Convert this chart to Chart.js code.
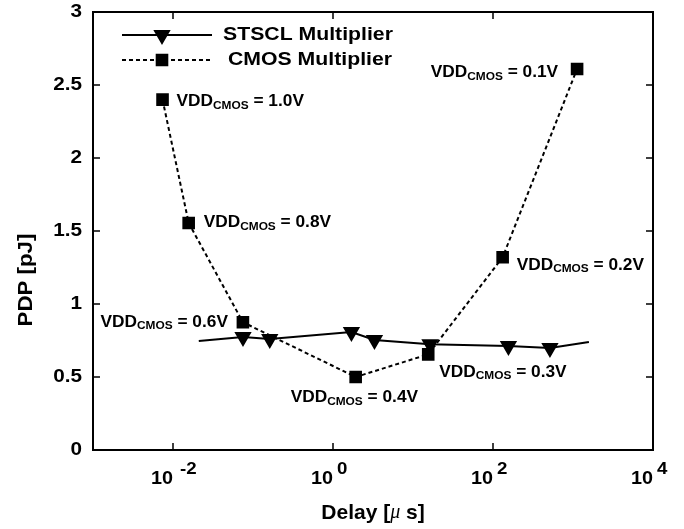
<!DOCTYPE html>
<html>
<head>
<meta charset="utf-8">
<script src="https://cdn.jsdelivr.net/npm/chart.js@4.4.1/dist/chart.umd.min.js"></script>
<style>
  body { margin: 0; background: #fff; }
</style>
</head>
<body>
<canvas id="myChart" width="684" height="529"></canvas>
<script>
// delay in microseconds, PDP in pJ
var stsclDelay = [0.021, 0.075, 0.162, 1.70, 3.3, 16.3, 156, 515, 1580];
var stsclPdp = [0.747, 0.774, 0.760, 0.808, 0.753, 0.725, 0.712, 0.699, 0.740];
var stsclMarker = [false, true, true, true, true, true, true, true, false];

var cmosDelay = [0.0074, 0.0157, 0.0748, 1.92, 15.5, 132, 1125];
var cmosPdp = [2.40, 1.555, 0.875, 0.50, 0.655, 1.32, 2.61];
var cmosVdd = ["1.0V", "0.8V", "0.6V", "0.4V", "0.3V", "0.2V", "0.1V"];

var xTicks = [1e-2, 1, 1e2, 1e4];
var xTickExp = ["-2", "0", "2", "4"];
var yTicks = [0, 0.5, 1, 1.5, 2, 2.5, 3];
var yTickLabels = ["0", "0.5", "1", "1.5", "2", "2.5", "3"];

var seriesNames = ["STSCL Multiplier", "CMOS Multiplier"];

var FONT = "'Liberation Sans', Arial, sans-serif";

// where each VDD label sits relative to its point: dx, dy, align
var labelPos = [
  [14, 2, "left"], [15, 0, "left"], [-15, 0, "right"], [-65, 21, "left"],
  [11, 18, "left"], [14, 8, "left"], [-19, 4, "right"]
];

function toXY(xs, ys) {
  var out = [];
  for (var i = 0; i < xs.length; i++) out.push({x: xs[i], y: ys[i]});
  return out;
}

// draws a run of text pieces, stretched a bit wider like the original figure
function drawParts(ctx, parts, x, y, align, sx) {
  var total = 0;
  parts.forEach(function (p) {
    ctx.font = p.font;
    p.w = ctx.measureText(p.t).width * sx;
    total += p.w;
  });
  var cx = x;
  if (align === "right") cx = x - total;
  if (align === "center") cx = x - total / 2;
  parts.forEach(function (p) {
    ctx.save();
    ctx.font = p.font;
    ctx.textBaseline = "middle";
    ctx.textAlign = "left";
    ctx.fillStyle = "#000";
    ctx.translate(cx, y + (p.dy || 0));
    ctx.scale(sx, 1);
    ctx.fillText(p.t, 0, 0);
    ctx.restore();
    cx += p.w;
  });
}

var decorPlugin = {
  id: "decor",
  afterDraw: function (chart) {
    var ctx = chart.ctx;
    var a = chart.chartArea;
    var xs = chart.scales.x, ys = chart.scales.y;
    ctx.save();
    ctx.strokeStyle = "#000";
    ctx.lineWidth = 2;
    ctx.strokeRect(a.left, a.top, a.right - a.left, a.bottom - a.top);

    // inward ticks
    ctx.lineWidth = 1.5;
    ctx.beginPath();
    xTicks.forEach(function (v) {
      var px = Math.round(xs.getPixelForValue(v));
      ctx.moveTo(px, a.bottom); ctx.lineTo(px, a.bottom - 7);
      ctx.moveTo(px, a.top); ctx.lineTo(px, a.top + 7);
    });
    yTicks.forEach(function (v) {
      var py = Math.round(ys.getPixelForValue(v));
      ctx.moveTo(a.left, py); ctx.lineTo(a.left + 7, py);
      ctx.moveTo(a.right, py); ctx.lineTo(a.right - 7, py);
    });
    ctx.stroke();

    // y tick labels
    yTicks.forEach(function (v, i) {
      drawParts(ctx, [{t: yTickLabels[i], font: "bold 18px " + FONT}],
        a.left - 11, ys.getPixelForValue(v), "right", 1.15);
    });

    // x tick labels 10^n
    xTicks.forEach(function (v, i) {
      var px = xs.getPixelForValue(v);
      drawParts(ctx, [{t: "10", font: "bold 18px " + FONT}], px, 479, "right", 1.1);
      var off = xTickExp[i].length > 1 ? 7 : 4;
      drawParts(ctx, [{t: xTickExp[i], font: "bold 17px " + FONT}], px + off, 469, "left", 1.1);
    });

    // axis titles
    drawParts(ctx, [
      {t: "Delay [", font: "bold 21px " + FONT},
      {t: "\u03bc", font: "italic 20px 'Liberation Serif', serif"},
      {t: " s]", font: "bold 21px " + FONT}
    ], (a.left + a.right) / 2, 513, "center", 1.0);

    ctx.save();
    ctx.translate(26, 280);
    ctx.rotate(-Math.PI / 2);
    drawParts(ctx, [{t: "PDP [pJ]", font: "bold 21px " + FONT}], 0, 0, "center", 1.06);
    ctx.restore();

    // VDD labels next to the CMOS points
    var meta = chart.getDatasetMeta(1);
    meta.data.forEach(function (pt, i) {
      var lp = labelPos[i];
      drawParts(ctx, [
        {t: "VDD", font: "bold 16px " + FONT},
        {t: "CMOS", font: "bold 11px " + FONT, dy: 4},
        {t: " = " + cmosVdd[i], font: "bold 16px " + FONT}
      ], pt.x + lp[0], pt.y + lp[1], lp[2], 1.08);
    });

    // legend
    var rows = [
      {y: 35, dash: [], style: "triangle", rot: 180, r: 8, tx: 223},
      {y: 60, dash: [4, 3], style: "rect", rot: 0, r: 7.5, tx: 228}
    ];
    rows.forEach(function (row, i) {
      ctx.save();
      ctx.strokeStyle = "#000";
      ctx.lineWidth = 2;
      ctx.setLineDash(row.dash);
      ctx.beginPath();
      ctx.moveTo(122, row.y); ctx.lineTo(212, row.y);
      ctx.stroke();
      ctx.setLineDash([]);
      ctx.fillStyle = "#000";
      Chart.helpers.drawPoint(ctx, {pointStyle: row.style, rotation: row.rot, radius: row.r, borderWidth: 1}, 162, row.y);
      ctx.restore();
      drawParts(ctx, [{t: seriesNames[i], font: "bold 18px " + FONT}], row.tx, row.y, "left", 1.18);
    });
    ctx.restore();
  }
};

var ctx = document.getElementById("myChart").getContext("2d");
var myChart = new Chart(ctx, {
  type: "line",
  data: {
    datasets: [{
      label: seriesNames[0],
      data: toXY(stsclDelay, stsclPdp),
      borderColor: "#000",
      backgroundColor: "#000",
      borderWidth: 2,
      pointStyle: "triangle",
      rotation: 180,
      pointRadius: stsclMarker.map(function (m) { return m ? 8 : 0; }),
      fill: false,
      tension: 0
    }, {
      label: seriesNames[1],
      data: toXY(cmosDelay, cmosPdp),
      borderColor: "#000",
      backgroundColor: "#000",
      borderWidth: 2,
      borderDash: [4, 3],
      pointStyle: "rect",
      pointRadius: 7.5,
      fill: false,
      tension: 0
    }]
  },
  options: {
    responsive: false,
    animation: false,
    layout: { padding: { left: 93, top: 12, right: 31, bottom: 79 } },
    plugins: { legend: { display: false }, tooltip: { enabled: false } },
    scales: {
      x: { type: "logarithmic", min: 1e-3, max: 1e4, display: false },
      y: { type: "linear", min: 0, max: 3, display: false }
    }
  },
  plugins: [decorPlugin]
});
</script>
</body>
</html>
